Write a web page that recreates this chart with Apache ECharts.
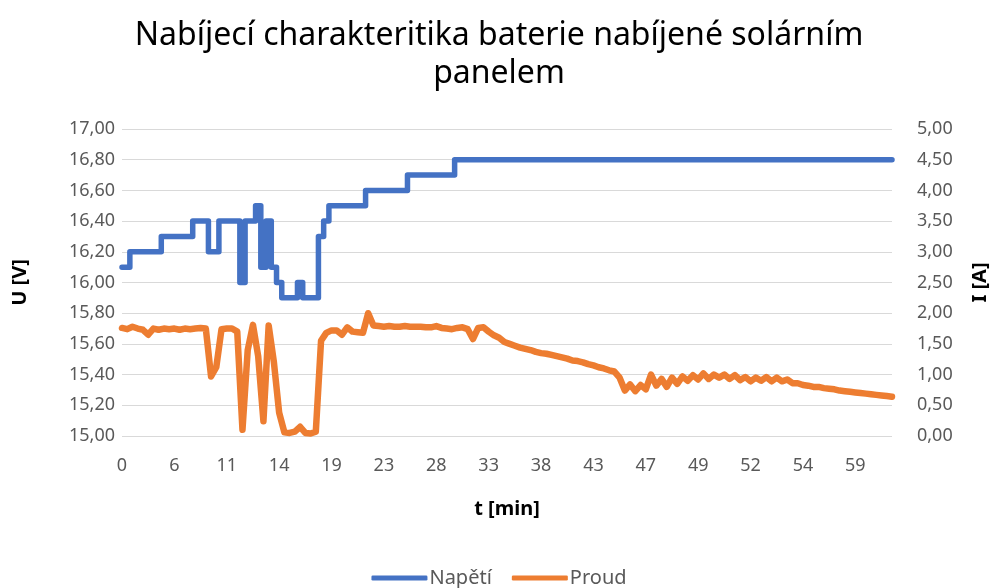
<!DOCTYPE html>
<html>
<head>
<meta charset="utf-8">
<script src="https://cdn.jsdelivr.net/npm/echarts@6/dist/echarts.min.js"></script>
<style>
  html, body { margin: 0; padding: 0; background: #fff; }
  #chart { width: 998px; height: 588px; }
</style>
</head>
<body>
<div id="chart"></div>
<script>
// Charging curve of a battery fed from a solar panel: voltage (left axis) and current (right axis)

// time labels shown under every 10th sample
const timeLabels = ['0', '6', '11', '14', '19', '23', '28', '33', '38', '43', '47', '49', '52', '54', '59'];

// battery voltage U [V], one value per sample
const napeti = [
  16.1, 16.1, 16.2, 16.2, 16.2, 16.2, 16.2, 16.2, 16.3, 16.3,
  16.3, 16.3, 16.3, 16.3, 16.4, 16.4, 16.4, 16.2, 16.2, 16.4,
  16.4, 16.4, 16.4, 16.0, 16.4, 16.4, 16.5, 16.1, 16.4, 16.1,
  16.0, 15.9, 15.9, 15.9, 16.0, 15.9, 15.9, 15.9, 16.3, 16.4,
  16.5, 16.5, 16.5, 16.5, 16.5, 16.5, 16.5, 16.6, 16.6, 16.6,
  16.6, 16.6, 16.6, 16.6, 16.6, 16.7, 16.7, 16.7, 16.7, 16.7,
  16.7, 16.7, 16.7, 16.7, 16.8, 16.8, 16.8, 16.8, 16.8, 16.8,
  16.8, 16.8, 16.8, 16.8, 16.8, 16.8, 16.8, 16.8, 16.8, 16.8,
  16.8, 16.8, 16.8, 16.8, 16.8, 16.8, 16.8, 16.8, 16.8, 16.8,
  16.8, 16.8, 16.8, 16.8, 16.8, 16.8, 16.8, 16.8, 16.8, 16.8,
  16.8, 16.8, 16.8, 16.8, 16.8, 16.8, 16.8, 16.8, 16.8, 16.8,
  16.8, 16.8, 16.8, 16.8, 16.8, 16.8, 16.8, 16.8, 16.8, 16.8,
  16.8, 16.8, 16.8, 16.8, 16.8, 16.8, 16.8, 16.8, 16.8, 16.8,
  16.8, 16.8, 16.8, 16.8, 16.8, 16.8, 16.8, 16.8, 16.8, 16.8,
  16.8, 16.8, 16.8, 16.8, 16.8, 16.8, 16.8, 16.8
];

// charging current I [A], one value per sample
const proud = [
  1.76, 1.74, 1.78, 1.75, 1.73, 1.65, 1.75, 1.73, 1.75, 1.74,
  1.75, 1.73, 1.75, 1.74, 1.75, 1.76, 1.75, 0.97, 1.12, 1.74,
  1.75, 1.75, 1.70, 0.10, 1.40, 1.81, 1.30, 0.24, 1.80, 1.20,
  0.38, 0.06, 0.05, 0.07, 0.15, 0.05, 0.04, 0.07, 1.55, 1.68,
  1.72, 1.72, 1.65, 1.77, 1.70, 1.69, 1.68, 2.00, 1.80, 1.79,
  1.78, 1.79, 1.78, 1.78, 1.79, 1.78, 1.78, 1.78, 1.77, 1.77,
  1.79, 1.76, 1.75, 1.74, 1.76, 1.77, 1.74, 1.58, 1.76, 1.77,
  1.70, 1.64, 1.60, 1.53, 1.50, 1.47, 1.44, 1.42, 1.40, 1.37,
  1.35, 1.34, 1.32, 1.30, 1.28, 1.26, 1.23, 1.22, 1.20, 1.17,
  1.15, 1.12, 1.10, 1.07, 1.05, 0.95, 0.74, 0.84, 0.73, 0.83,
  0.76, 1.00, 0.82, 0.93, 0.80, 0.95, 0.85, 0.97, 0.90, 0.99,
  0.92, 1.02, 0.93, 1.00, 0.95, 1.00, 0.93, 0.99, 0.91, 0.96,
  0.89, 0.95, 0.90, 0.96, 0.89, 0.95, 0.89, 0.92, 0.86, 0.86,
  0.83, 0.82, 0.80, 0.80, 0.78, 0.77, 0.76, 0.74, 0.73, 0.72,
  0.71, 0.70, 0.69, 0.68, 0.67, 0.66, 0.65, 0.64
];

const samples = proud.map((_, i) => String(i));
const FONT = 'Noto Sans';
const fmt = v => v.toFixed(2).replace('.', ',');

const chart = echarts.init(document.getElementById('chart'), null, { renderer: 'canvas' });
chart.setOption({
  animation: false,
  backgroundColor: '#ffffff',
  textStyle: { fontFamily: FONT },
  title: {
    text: 'Nabíjecí charakteritika baterie nabíjené solárním\npanelem',
    left: 'center',
    top: 12,
    textStyle: { fontFamily: FONT, fontSize: 32, fontWeight: 'normal', color: '#000', lineHeight: 38 }
  },
  legend: {
    bottom: -5,
    left: 'center',
    itemWidth: 56,
    itemHeight: 5,
    itemGap: 20,
    icon: 'roundRect',
    textStyle: { fontFamily: FONT, fontSize: 20, color: '#595959', padding: [0, 0, 0, -3] },
    data: ['Napětí', 'Proud']
  },
  grid: { left: 122, right: 105, top: 129, bottom: 152 },
  xAxis: {
    type: 'category',
    data: samples,
    boundaryGap: false,
    name: 't [min]',
    nameLocation: 'middle',
    nameGap: 63,
    nameTextStyle: { fontFamily: FONT, fontSize: 20, fontWeight: 'bold', color: '#000' },
    axisLine: { show: false },
    axisTick: { show: false },
    axisLabel: {
      interval: 9,
      margin: 21,
      fontSize: 18,
      color: '#595959',
      formatter: (v, idx) => timeLabels[idx / 10]
    },
    splitLine: { show: false }
  },
  yAxis: [
    {
      type: 'value',
      min: 15, max: 17, interval: 0.2,
      name: 'U [V]',
      nameLocation: 'middle',
      nameRotate: 90,
      nameGap: 92,
      nameTextStyle: { fontFamily: FONT, fontSize: 20, fontWeight: 'bold', color: '#000' },
      axisLine: { show: false },
      axisTick: { show: false },
      axisLabel: { fontSize: 18, color: '#595959', margin: 7, formatter: fmt },
      splitLine: { show: true, lineStyle: { color: '#d9d9d9', width: 1 } }
    },
    {
      type: 'value',
      min: 0, max: 5, interval: 0.5,
      name: 'I [A]',
      nameLocation: 'middle',
      nameRotate: 90,
      nameGap: 78,
      nameTextStyle: { fontFamily: FONT, fontSize: 20, fontWeight: 'bold', color: '#000' },
      axisLine: { show: false },
      axisTick: { show: false },
      axisLabel: { fontSize: 18, color: '#595959', margin: 25, formatter: fmt },
      splitLine: { show: false }
    }
  ],
  series: [
    {
      name: 'Napětí',
      type: 'line',
      yAxisIndex: 0,
      data: napeti,
      step: 'middle',
      showSymbol: false,
      symbol: 'none',
      lineStyle: { color: '#4472C4', width: 5.5, cap: 'round', join: 'round' },
      itemStyle: { color: '#4472C4' }
    },
    {
      name: 'Proud',
      type: 'line',
      yAxisIndex: 1,
      data: proud,
      showSymbol: false,
      symbol: 'none',
      lineStyle: { color: '#ED7D31', width: 6.5, cap: 'round', join: 'round' },
      itemStyle: { color: '#ED7D31' }
    }
  ]
});
</script>
</body>
</html>
